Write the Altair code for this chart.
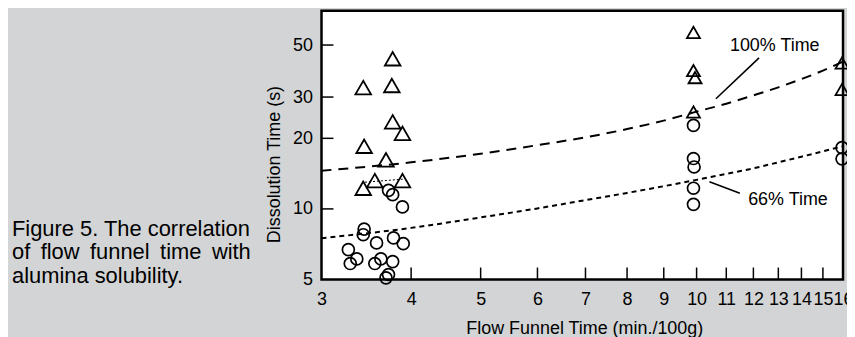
import altair as alt
import pandas as pd

# ---- data ----
tri_x = [3.77, 3.43, 3.76, 3.77, 3.89, 3.44, 3.69, 3.56, 3.89, 3.43, 9.9, 9.9, 9.95, 9.9, 15.95, 15.95]
tri_y = [43.7, 32.9, 33.6, 23.5, 21.0, 18.5, 16.2, 13.2, 13.2, 12.25, 56.6, 38.9, 36.3, 25.9, 41.9, 32.3]

circ_x = [3.27, 3.36, 3.29, 3.44, 3.43, 3.58, 3.63, 3.56, 3.77, 3.78, 3.90, 3.72, 3.77, 3.89, 3.69, 3.72,
          9.9, 9.9, 9.92, 9.9, 9.9, 15.95, 15.95]
circ_y = [6.70, 6.12, 5.85, 8.2, 7.76, 7.16, 6.12, 5.85, 5.96, 7.52, 7.11, 12.0, 11.5, 10.2, 5.08, 5.25,
          22.7, 16.4, 15.1, 12.25, 10.46, 18.25, 16.35]

curve_x = [3, 4, 5, 6, 7, 8, 9, 10, 11, 12, 13, 14, 15, 16]
curve100_y = [14.55, 15.8, 17.2, 18.7, 20.2, 21.9, 23.8, 26.0, 28.1, 30.5, 33.0, 35.8, 38.9, 42.5]
curve66_y = [7.5, 8.3, 9.2, 10.05, 10.9, 11.7, 12.5, 13.3, 14.1, 14.9, 15.8, 16.7, 17.6, 18.5]

dotseg_x = [3.45, 3.9]
dotseg_y = [13.0, 13.4]

x_labels = [3, 4, 5, 6, 7, 8, 9, 10, 11, 12, 13, 14, 15, 16]
x_tick_marks = [4, 5, 6, 7, 8, 9, 10, 11, 12, 13, 14, 15]
y_labels = [5, 10, 20, 30, 50]
y_tick_marks = [10, 20, 30, 50]

leader_x = [10.64, 10.42]
leader_x2 = [12.22, 11.49]
leader_y = [29.5, 13.07]
leader_y2 = [44.1, 11.67]

ann_text = ["100% Time", "66% Time"]
ann_x = [11.13, 11.8]
ann_y = [49.7, 10.93]

caption = "Figure 5. The correlation\nof\u2009 flow\u2009 funnel\u2009 time\u2009 with\nalumina solubility."

FONT = "Liberation Sans"
FS = 18

xs = alt.Scale(type="log", domain=[3, 16], nice=False)
ys = alt.Scale(type="log", domain=[5, 70], nice=False)

tri_df = pd.DataFrame({"x": tri_x, "y": tri_y})
circ_df = pd.DataFrame({"x": circ_x, "y": circ_y})
c100_df = pd.DataFrame({"x": curve_x, "y": curve100_y})
c66_df = pd.DataFrame({"x": curve_x, "y": curve66_y})
seg_df = pd.DataFrame({"x": dotseg_x, "y": dotseg_y})
xt_df = pd.DataFrame({"x": x_tick_marks})
yt_df = pd.DataFrame({"y": y_tick_marks})
lead_df = pd.DataFrame({"x": leader_x, "x2": leader_x2, "y": leader_y, "y2": leader_y2})
ann_df = pd.DataFrame({"x": ann_x, "y": ann_y, "t": ann_text})

x_axis = alt.Axis(values=x_labels, format="d", ticks=False, domain=False, grid=False,
                  labelPadding=11, labelFont=FONT, labelFontSize=FS, labelColor="black",
                  labelFlush=False, labelOverlap=False,
                  title="Flow Funnel Time (min./100g)", titleFont=FONT, titleFontSize=FS,
                  titleFontWeight="normal", titleColor="black",
                  titleX=264, titleY=54, titleAlign="center", titleBaseline="alphabetic")
y_axis = alt.Axis(values=y_labels, format="d", ticks=False, domain=False, grid=False,
                  labelPadding=9, labelFont=FONT, labelFontSize=FS, labelColor="black",
                  labelFlush=False, labelOverlap=False,
                  title="Dissolution Time (s)", titleFont=FONT, titleFontSize=FS,
                  titleFontWeight="normal", titleColor="black",
                  titleX=-47, titleY=154, titleAngle=270, titleAlign="center", titleBaseline="middle")

X = alt.X("x:Q", scale=xs, axis=x_axis)
Y = alt.Y("y:Q", scale=ys, axis=y_axis)

tri = alt.Chart(tri_df).mark_point(shape="triangle-up", filled=False, color="black",
                                   strokeWidth=1.8, opacity=1).encode(
    x=X, y=Y,
    size=alt.condition(alt.datum.x > 5, alt.value(170), alt.value(245)),
)

circ = alt.Chart(circ_df).mark_point(shape="circle", filled=False, color="black",
                                     strokeWidth=1.7, size=144, opacity=1).encode(x=X, y=Y)

c100 = alt.Chart(c100_df).mark_line(color="black", strokeWidth=2, strokeDash=[10, 7],
                                    interpolate="monotone").encode(x=X, y=Y)
c66 = alt.Chart(c66_df).mark_line(color="black", strokeWidth=2, strokeDash=[5, 4],
                                  interpolate="monotone").encode(x=X, y=Y)
seg = alt.Chart(seg_df).mark_line(color="black", strokeWidth=1, strokeDash=[2, 2]).encode(x=X, y=Y)

xticks = alt.Chart(xt_df).mark_rule(color="black", strokeWidth=1.5).encode(
    x=X, y=alt.value(258), y2=alt.value(270))
yticks = alt.Chart(yt_df).mark_rule(color="black", strokeWidth=1.5).encode(
    y=Y, x=alt.value(0), x2=alt.value(12))

leaders = alt.Chart(lead_df).mark_rule(color="black", strokeWidth=1.6).encode(
    x=X, x2="x2:Q", y=Y, y2="y2:Q")
anns = alt.Chart(ann_df).mark_text(font=FONT, fontSize=FS, align="left", baseline="middle",
                                   color="black").encode(x=X, y=Y, text="t:N")

cap = alt.Chart(pd.DataFrame({"t": [caption]})).mark_text(
    font=FONT, fontSize=22, align="left", baseline="alphabetic", lineBreak="\n",
    lineHeight=23.7, color="black").encode(
    x=alt.value(-311), y=alt.value(226), text="t:N")

chart = alt.layer(tri, c100, c66, seg, xticks, yticks, circ, leaders, anns, cap).properties(
    width=524, height=270,
    autosize=alt.AutoSizeParams(type="none"),
    padding={"left": 315, "top": 2, "right": 4, "bottom": 57},
    background="#d3d4d5",
).configure_view(stroke="black", strokeWidth=2.5, fill="white")

chart.save("out.html", embed_options={"renderer": "svg", "actions": False})
